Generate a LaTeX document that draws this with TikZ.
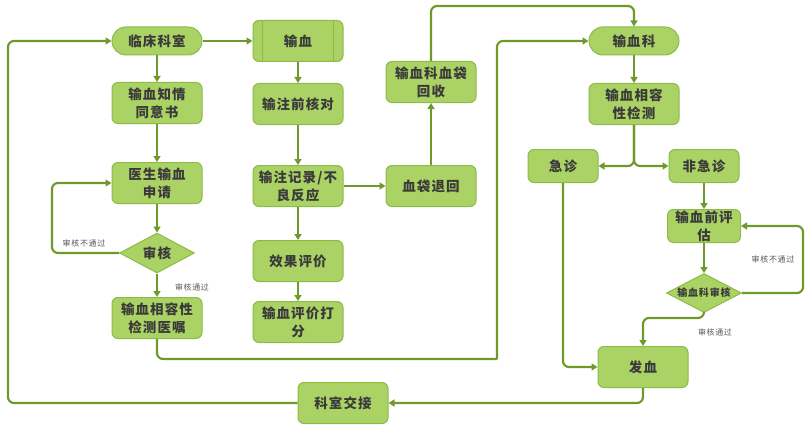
\documentclass[tikz,border=0pt]{standalone}
\usepackage{fontspec}
\newfontfamily\cjk[LetterSpace=8]{Noto Sans CJK SC}
\usetikzlibrary{shapes.geometric,arrows.meta}
\definecolor{boxfill}{HTML}{AAD264}
\definecolor{boxdraw}{HTML}{8CBB48}
\definecolor{linec}{HTML}{6E9A2C}
\definecolor{txt}{HTML}{3A3A3A}
\tikzset{
  box/.style={draw=boxdraw, line width=1pt, fill=boxfill, rounded corners=6pt,
    minimum width=90pt, minimum height=41pt, inner sep=0pt, align=center,
    text=txt, font=\cjk\bfseries\fontsize{13.5}{18}\selectfont},
  term/.style={box, rounded corners=14pt, minimum height=28pt},
  dia/.style={draw=boxdraw, line width=1pt, fill=boxfill, diamond, aspect=1.9,
    minimum width=75pt, minimum height=40pt, inner sep=0pt, text=txt,
    font=\cjk\bfseries\fontsize{13.5}{18}\selectfont},
  arr/.style={draw=linec, line width=2.2pt, rounded corners=6pt,
    -{Triangle[length=6pt,width=7pt]}},
  ln/.style={draw=linec, line width=2.2pt, rounded corners=6pt},
  lbl/.style={text=txt!85, font=\cjk\fontsize{8}{10}\selectfont, inner sep=1pt}
}
\begin{document}
\begin{tikzpicture}[x=1pt,y=-1pt]
\useasboundingbox (0,0) rectangle (809,428);
% left column
\node[term] (lc) at (157,41) {临床科室};
\node[box] (zq) at (157,103) {输血知情\\同意书};
\node[box] (sq) at (157,183) {医生输血\\申请};
\node[dia] (sh) at (157,253) {审核};
\node[box] (yz) at (157,318) {输血相容性\\检测医嘱};
% second column
\node[box] (sx) at (298,41) {输血};
\draw[boxdraw, line width=1pt] ([xshift=10pt]sx.north west) -- ([xshift=10pt]sx.south west);
\draw[boxdraw, line width=1pt] ([xshift=-10pt]sx.north east) -- ([xshift=-10pt]sx.south east);
\node[box] (qh) at (298,104) {输注前核对};
\node[box] (jl) at (298,186) {输注记录/不\\良反应};
\node[box] (xg) at (298,261) {效果评价};
\node[box] (df) at (298,322) {输血评价打\\分};
% third column
\node[box] (hs) at (431,82) {输血科血袋\\回收};
\node[box] (th) at (431,186) {血袋退回};
% right
\node[term] (sxk) at (634,41) {输血科};
\node[box] (xr) at (634,104) {输血相容\\性检测};
\node[box, minimum width=70pt, minimum height=33pt] (jz) at (563,166) {急诊};
\node[box, minimum width=70pt, minimum height=33pt] (fjz) at (704,166) {非急诊};
\node[box, minimum width=73pt, minimum height=33pt] (pg) at (704,226) {输血前评\\估};
\node[dia, minimum width=75pt, minimum height=39pt, font=\cjk\bfseries\fontsize{10}{12}\selectfont] (kh) at (704,293) {输血科审核};
\node[box] (fx) at (643,367) {发血};
\node[box] (kj) at (343,403) {科室交接};
% free-end coordinates
\coordinate (c1) at (497,359);
\coordinate (c2) at (8,403);
\coordinate (c3) at (52,253);
\coordinate (c4) at (431,6);
\coordinate (c5) at (803,293);
\coordinate (c6) at (704,318);
% connectors
\draw[arr] (lc.east) -- (sx.west);
\draw[arr] (lc.south) -- (zq.north);
\draw[arr] (zq.south) -- (sq.north);
\draw[arr] (sq.south) -- (sh.north);
\draw[arr] (sh.south) -- (yz.north);
\draw[arr] (sh.west) -- (c3) |- (sq.west);
\draw[ln] (yz.south) |- (c1);
\draw[arr] (c1) |- (sxk.west);
\draw[arr] (kj.west) -- (c2) |- (lc.west);
\draw[arr] (sx.south) -- (qh.north);
\draw[arr] (qh.south) -- (jl.north);
\draw[arr] (jl.south) -- (xg.north);
\draw[arr] (xg.south) -- (df.north);
\draw[arr] (jl.east) -- (th.west);
\draw[arr] (th.north) -- (hs.south);
\draw[arr] (hs.north) -- (c4) -| (sxk.north);
\draw[arr] (sxk.south) -- (xr.north);
\draw[arr] (xr.south) |- (jz.east);
\draw[arr] (xr.south) |- (fjz.west);
\draw[arr] (fjz.south) -- (pg.north);
\draw[arr] (pg.south) -- (kh.north);
\draw[arr] (kh.east) -- (c5) |- (pg.east);
\draw[arr] (kh.south) -- (c6) -| (fx.north);
\draw[arr] (jz.south) |- (fx.west);
\draw[arr] (fx.south) |- (kj.east);
% labels
\node[lbl] (l1) at (84,243) {审核不通过};
\node[lbl] (l2) at (192,287) {审核通过};
\node[lbl] (l3) at (773,259) {审核不通过};
\node[lbl] (l4) at (715,332) {审核通过};
\end{tikzpicture}
\end{document}
